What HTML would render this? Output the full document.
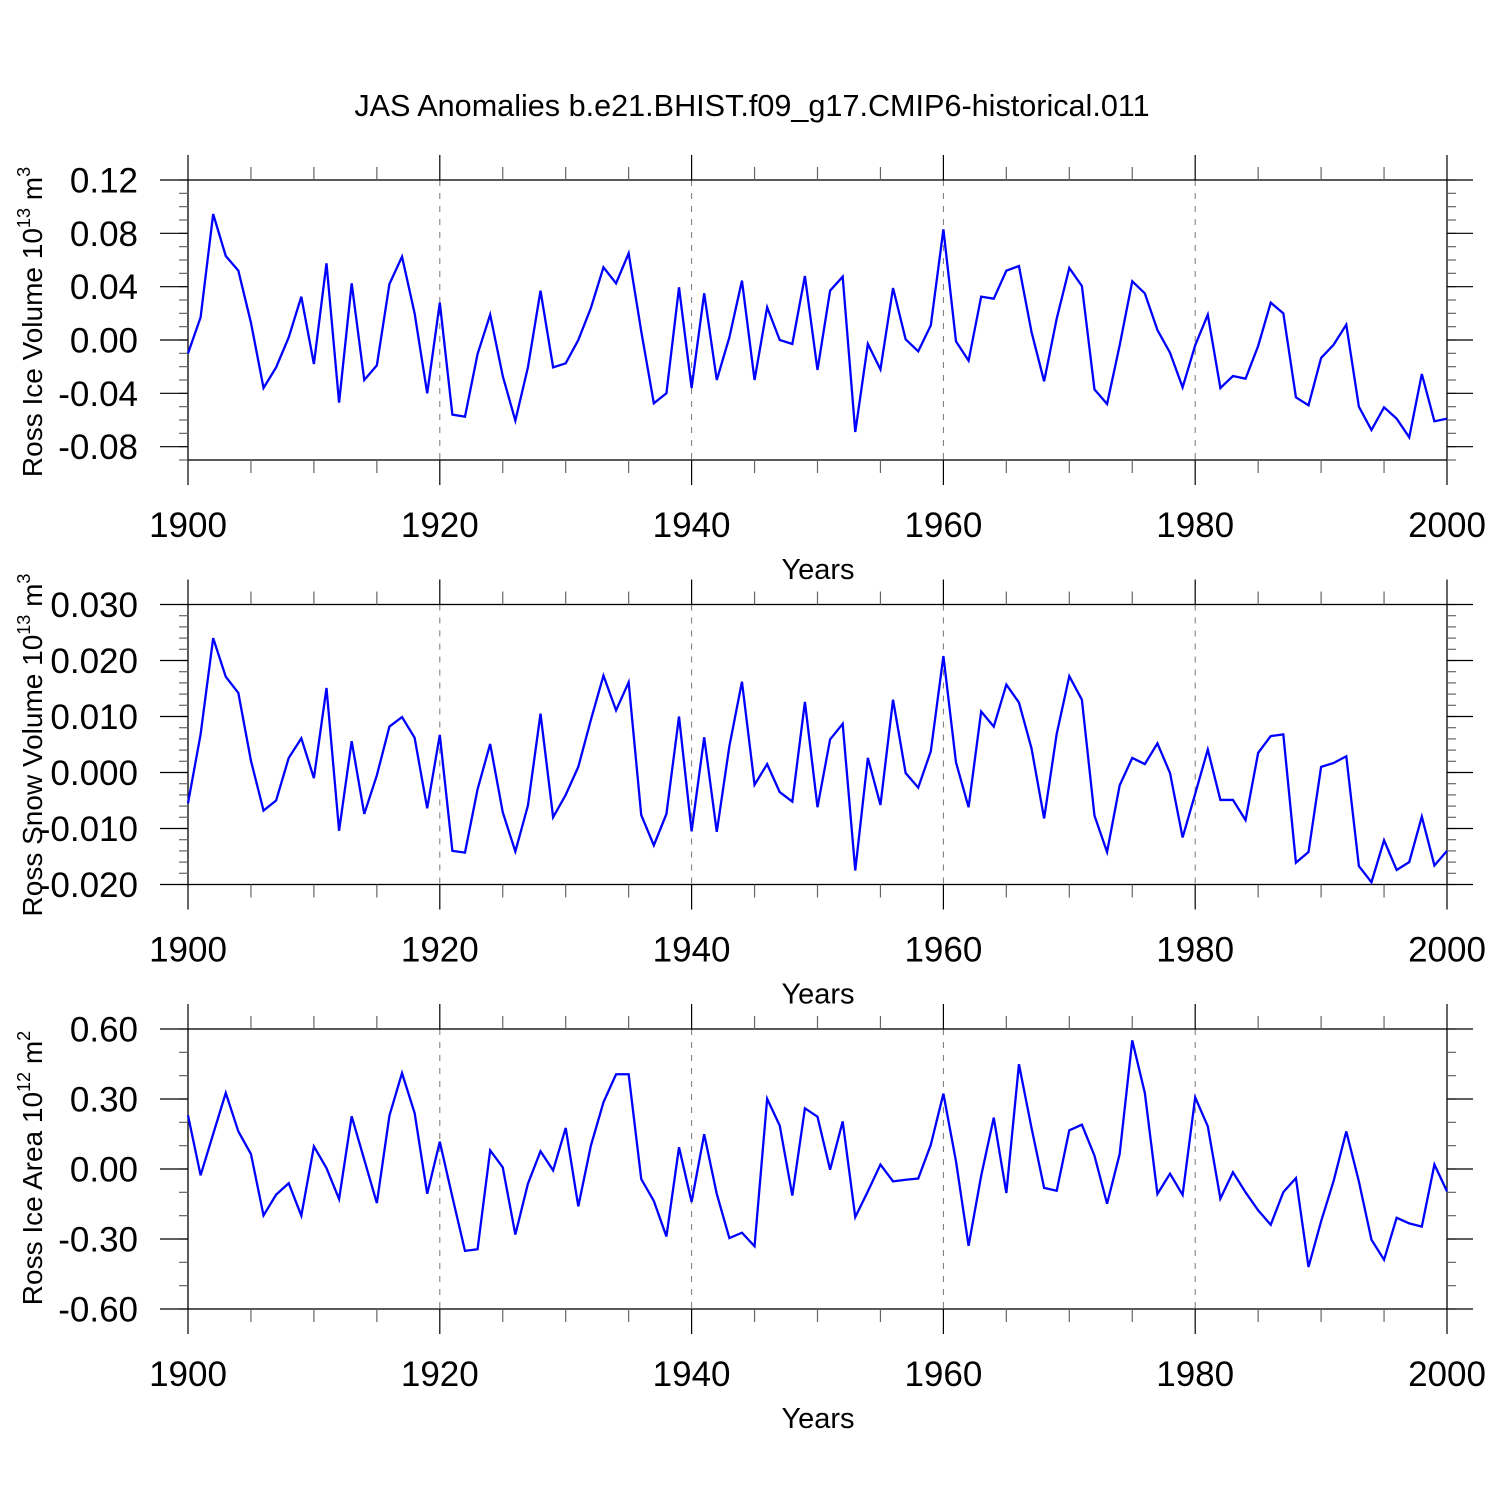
<!DOCTYPE html>
<html><head><meta charset="utf-8"><style>
html,body{margin:0;padding:0;background:#fff;}
svg{display:block;font-family:"Liberation Sans",Arial,sans-serif;}
</style></head><body>
<svg id="chart" width="1500" height="1500" viewBox="0 0 1500 1500" xmlns="http://www.w3.org/2000/svg">
<rect width="1500" height="1500" fill="#fff"/>
<text x="752" y="116" font-size="30.6" text-anchor="middle">JAS Anomalies b.e21.BHIST.f09_g17.CMIP6-historical.011</text>
</svg>
<script>
const startYear = 1900;
const iceVolume = [-0.010,0.017,0.0945,0.063,0.052,0.013,-0.036,-0.0205,0.002,0.0325,-0.018,0.0575,-0.047,0.0425,-0.030,-0.019,0.042,0.0625,0.020,-0.040,
0.028,-0.056,-0.0575,-0.0105,0.019,-0.027,-0.0605,-0.0205,0.037,-0.0205,-0.0175,0.000,0.024,0.0545,0.0425,0.065,0.0065,-0.0475,-0.040,0.0395,
-0.036,0.035,-0.030,0.002,0.0445,-0.030,0.0245,0.000,-0.003,0.048,-0.0225,0.037,0.0475,-0.069,-0.003,-0.022,0.039,0.0005,-0.0085,0.011,
0.083,-0.001,-0.0155,0.0325,0.031,0.052,0.0555,0.006,-0.031,0.016,0.054,0.0405,-0.037,-0.048,-0.004,0.044,0.035,0.0075,-0.0095,-0.0355,
-0.004,0.019,-0.036,-0.027,-0.029,-0.0045,0.028,0.020,-0.043,-0.049,-0.0135,-0.0035,0.0115,-0.050,-0.0675,-0.0505,-0.059,-0.073,-0.0255,-0.061,-0.059];
const snowVolume = [-0.0055,0.0068,0.024,0.0171,0.0142,0.0021,-0.0068,-0.005,0.0026,0.0061,-0.001,0.0151,-0.0104,0.0056,-0.0074,-0.0005,0.0082,0.0099,0.0062,-0.0064,
0.0067,-0.014,-0.0143,-0.003,0.0051,-0.0071,-0.0141,-0.0059,0.0105,-0.008,-0.004,0.001,0.0094,0.0173,0.0111,0.0161,-0.0076,-0.013,-0.0074,0.010,
-0.0105,0.0063,-0.0106,0.0047,0.0162,-0.0022,0.0015,-0.0035,-0.0052,0.0126,-0.0062,0.0059,0.0087,-0.0175,0.0026,-0.0058,0.013,-0.0001,-0.0027,0.0038,
0.0208,0.0018,-0.0062,0.0109,0.0082,0.0157,0.0125,0.0043,-0.0082,0.0069,0.0172,0.013,-0.0077,-0.0142,-0.0023,0.0026,0.0015,0.0052,-0.0001,-0.0116,
-0.0038,0.0041,-0.0049,-0.0049,-0.0085,0.0035,0.0065,0.0068,-0.0161,-0.0142,0.001,0.0017,0.0029,-0.0167,-0.0196,-0.0121,-0.0174,-0.016,-0.0079,-0.0166,-0.014];
const iceArea = [0.23,-0.027,0.15,0.326,0.161,0.064,-0.199,-0.11,-0.061,-0.2,0.097,0.004,-0.129,0.226,0.04,-0.146,0.229,0.411,0.24,-0.106,
0.117,-0.12,-0.351,-0.344,0.08,0.007,-0.281,-0.063,0.076,-0.006,0.176,-0.16,0.1,0.286,0.406,0.406,-0.043,-0.137,-0.289,0.093,
-0.141,0.149,-0.107,-0.296,-0.273,-0.331,0.301,0.186,-0.114,0.26,0.224,-0.003,0.204,-0.206,-0.096,0.019,-0.053,-0.046,-0.041,0.104,
0.323,0.033,-0.329,-0.029,0.22,-0.103,0.449,0.176,-0.081,-0.093,0.166,0.19,0.057,-0.149,0.064,0.551,0.326,-0.107,-0.02,-0.111,
0.307,0.183,-0.127,-0.014,-0.1,-0.177,-0.239,-0.099,-0.039,-0.42,-0.224,-0.05,0.161,-0.053,-0.303,-0.389,-0.209,-0.233,-0.247,0.019,-0.096];
const xTickLabels = ["1900","1920","1940","1960","1980","2000"];
const iceVolTicks = ["0.12","0.08","0.04","0.00","-0.04","-0.08"];
const snowTicks = ["0.030","0.020","0.010","0.000","-0.010","-0.020"];
const areaTicks = ["0.60","0.30","0.00","-0.30","-0.60"];

const NS="http://www.w3.org/2000/svg";
const svg=document.getElementById('chart');
function mk(tag,attrs,parent){const e=document.createElementNS(NS,tag);for(const k in attrs)e.setAttribute(k,attrs[k]);(parent||svg).appendChild(e);return e;}
const L=188,R=1447;
function xScale(yr){return L+(yr-1900)*(R-L)/100;}

function panel(cfg){
  const g=mk('g',{});
  
  
  const T=cfg.top,B=cfg.top+280;
  const yScale=v=>T+(cfg.ymax-v)*280/(cfg.ymax-cfg.ymin);
  for(let yr=1920;yr<=1980;yr+=20){
    const d=mk('line',{x1:xScale(yr),x2:xScale(yr),y1:T,y2:B,stroke:'#777','stroke-width':1,'stroke-dasharray':'6,7'},g);
    
    
  }
  const fr=mk('rect',{x:L,y:T,width:R-L,height:280,fill:'none',stroke:'#000','stroke-width':1.3},g);
  
  
  for(let yr=1900;yr<=2000;yr+=5){
    const major=yr%20===0, len=major?25:13, x=xScale(yr);
    mk('line',{x1:x,x2:x,y1:T,y2:T-len,stroke:major?'#000':'#666','stroke-width':1.2},g);
    mk('line',{x1:x,x2:x,y1:B,y2:B+len,stroke:major?'#000':'#666','stroke-width':1.2},g);
  }
  xTickLabels.forEach((lab,i)=>{
    const t=mk('text',{x:xScale(1900+i*20),y:B+77,'font-size':35,'text-anchor':'middle'},g);
    t.textContent=lab;
    
    
  });
  const xt=mk('text',{x:818,y:B+119,'font-size':29,'text-anchor':'middle'},g);
  xt.textContent='Years';
  
  
  const nMinor=Math.round((cfg.ymax-cfg.ymin)/cfg.minor);
  for(let i=0;i<=nMinor;i++){
    const y=yScale(cfg.ymax-i*cfg.minor);
    mk('line',{x1:L,x2:L-9,y1:y,y2:y,stroke:'#666','stroke-width':1.2},g);
    mk('line',{x1:R,x2:R+9,y1:y,y2:y,stroke:'#666','stroke-width':1.2},g);
  }
  cfg.ticks.forEach(lab=>{
    const v=parseFloat(lab),y=yScale(v);
    mk('line',{x1:L,x2:L-28,y1:y,y2:y,stroke:'#000','stroke-width':1.2},g);
    mk('line',{x1:R,x2:R+26,y1:y,y2:y,stroke:'#000','stroke-width':1.2},g);
    const t=mk('text',{x:138,y:y+12.5,'font-size':35,'text-anchor':'end'},g);
    t.textContent=lab;
    
    
  });
  const yt=mk('text',{transform:`translate(42,${cfg.tcy}) rotate(-90)`,'font-size':28,'text-anchor':'middle'},g);
  
  
  const s1=mk('tspan',{},yt);s1.textContent=cfg.title+' 10';
  const s2=mk('tspan',{dy:-12,'font-size':18},yt);s2.textContent=cfg.exp;
  const s3=mk('tspan',{dy:12},yt);s3.textContent=' m';
  const s4=mk('tspan',{dy:-12,'font-size':18},yt);s4.textContent=cfg.unitExp;
  const pts=cfg.data.map((v,i)=>xScale(startYear+i).toFixed(2)+','+yScale(v).toFixed(2)).join(' ');
  const pl=mk('polyline',{points:pts,fill:'none',stroke:'#0000ff','stroke-width':2.3,'stroke-linejoin':'miter'},g);
  
  
}
panel({name:'ice-volume-panel',top:180,ymax:0.12,ymin:-0.09,minor:0.01,ticks:iceVolTicks,data:iceVolume,title:'Ross Ice Volume',exp:'13',unitExp:'3',tcy:322});
panel({name:'snow-volume-panel',top:604.5,ymax:0.030,ymin:-0.020,minor:0.002,ticks:snowTicks,data:snowVolume,title:'Ross Snow Volume',exp:'13',unitExp:'3',tcy:745});
panel({name:'ice-area-panel',top:1029,ymax:0.6,ymin:-0.6,minor:0.1,ticks:areaTicks,data:iceArea,title:'Ross Ice Area',exp:'12',unitExp:'2',tcy:1168});
</script>
</body></html>
